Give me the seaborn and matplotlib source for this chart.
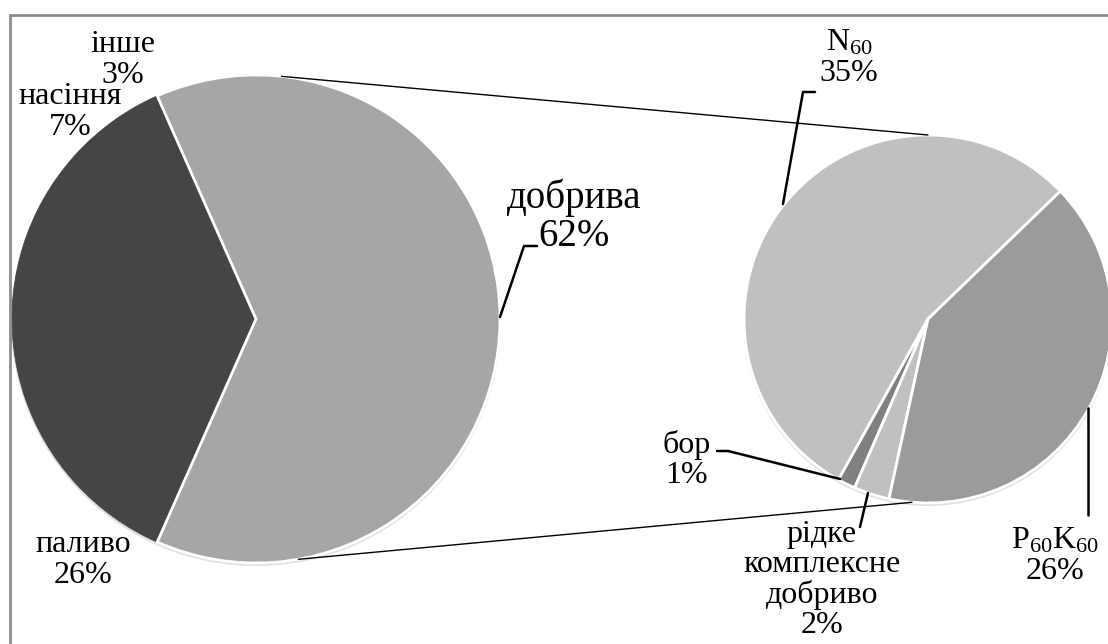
import numpy as np
import matplotlib
matplotlib.use("Agg")
import matplotlib.pyplot as plt
from matplotlib.patches import Circle, Rectangle
import seaborn as sns

# ---------- DATA ----------
main_labels = ["добрива", "інше", "насіння", "паливо"]
main_values = [62, 3, 7, 26]
main_colors = ["#a6a6a6", "#454545", "#454545", "#454545"]

sub_labels = [r"N$_{\mathrm{60}}$", "бор", "рідке\nкомплексне\nдобриво",
              r"P$_{\mathrm{60}}$K$_{\mathrm{60}}$"]
sub_values = [35, 1, 2, 26]
sub_colors = ["#c0c0c0", "#808080", "#c0c0c0", "#9b9b9b"]

W, H = 1108, 644


def py(y):
    # pixel row (from top) -> data y (from bottom)
    return H - y


def edge_pt(cx, cy, r, ang):
    a = np.deg2rad(ang)
    return cx + r * np.cos(a), cy + r * np.sin(a)


# ---------- STYLE ----------
sns.set_theme(style="white")
plt.rcParams["font.family"] = ["Liberation Serif", "DejaVu Serif"]
plt.rcParams["mathtext.fontset"] = "custom"
plt.rcParams["mathtext.rm"] = "Liberation Serif"
plt.rcParams["mathtext.it"] = "Liberation Serif:italic"
plt.rcParams["text.color"] = "black"

fig = plt.figure(figsize=(W / 100, H / 100), dpi=100)
ax = fig.add_axes([0, 0, 1, 1])

# pie geometry (pixels)
c1 = (256, py(319))
r1 = 244
c2 = (928, py(319))
r2 = 184

# soft shadows
for c, r in [(c1, r1), (c2, r2)]:
    ax.add_patch(Circle((c[0], c[1] - 2), r + 1, color="#e0e0e0", zorder=0.5, lw=0))

# ---------- MAIN PIE ----------
start1 = -main_values[0] / sum(main_values) * 180
w1, _ = ax.pie(main_values, colors=main_colors, startangle=start1, counterclock=True,
               center=c1, radius=r1, frame=True,
               wedgeprops=dict(linewidth=0.6))
for w, col in zip(w1, main_colors):
    w.set_edgecolor(col)
w1[0].set_edgecolor("white")
w1[0].set_linewidth(2)
w1[0].set_zorder(3)

# ---------- SECONDARY PIE ----------
w2, _ = ax.pie(sub_values, colors=sub_colors, startangle=44, counterclock=True,
               center=c2, radius=r2, frame=True,
               wedgeprops=dict(edgecolor="white", linewidth=2))

# connector lines
for a1, a2 in [(84, 90), (-80, 265)]:
    x0, y0 = edge_pt(*c1, r1, a1)
    x1, y1 = edge_pt(*c2, r2, a2)
    ax.plot([x0, x1], [y0, y1], color="black", lw=1, zorder=4)

# ---------- LABELS ----------
fs = 23
main_pos = {"добрива": (574, 217), "інше": (123, 60), "насіння": (70, 112), "паливо": (83, 560)}
for lab, val in zip(main_labels, main_values):
    x, y = main_pos[lab]
    ax.text(x, py(y), f"{lab}\n{val}%", ha="center", va="center", color="black",
            fontsize=28 if lab == "добрива" else fs, linespacing=1.05, zorder=6)

sub_pos = [(849, 58), (687, 460), (822, 580), (1055, 556)]
for lab, val, (x, y) in zip(sub_labels, sub_values, sub_pos):
    ax.text(x, py(y), f"{lab}\n{val}%", ha="center", va="center", color="black",
            fontsize=fs, linespacing=1.05, zorder=6)

# leader lines (pixel points)
leaders = [
    [(500, 317), (524, 246), (537, 246)],
    [(783, 204), (803, 92), (815, 92)],
    [(717, 451), (728, 451), (840, 479)],
    [(868, 493), (860, 527)],
    [(1088, 408), (1088, 515)],
]
for pts in leaders:
    xs = [p[0] for p in pts]
    ys = [py(p[1]) for p in pts]
    ax.plot(xs, ys, color="black", lw=1.8, zorder=5, solid_joinstyle="miter")

# chart frame
ax.add_patch(Rectangle((10, -20), W + 20, py(15) + 20, fill=False, edgecolor="#8c8c8c",
                       lw=2, zorder=7))

ax.set_xlim(0, W)
ax.set_ylim(0, H)
ax.set_aspect("equal")
ax.set_axis_off()

fig.savefig("out.png", dpi=100)
